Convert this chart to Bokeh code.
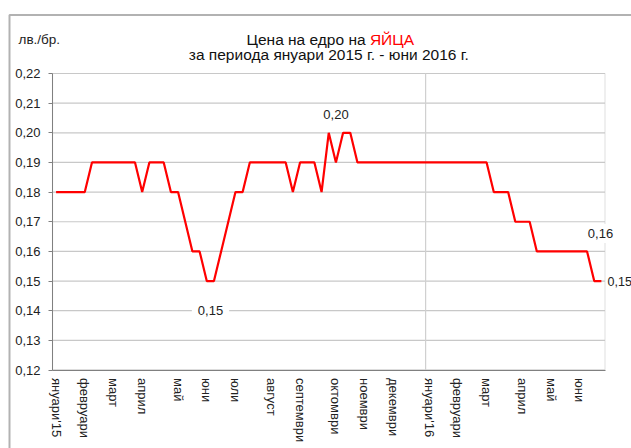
from bokeh.plotting import figure
from bokeh.models import Range1d, FixedTicker, CustomJSTickFormatter, Label, BoxAnnotation
from bokeh.embed import file_html
from bokeh.resources import INLINE

# weekly wholesale egg prices, Jan 2015 - Jun 2016 (лв./бр.)
week_index = list(range(77))
prices = ([0.18] * 5 + [0.19] * 7 + [0.18] + [0.19] * 3 + [0.18] * 2 + [0.17]
          + [0.16] * 2 + [0.15] * 2 + [0.16] + [0.17] + [0.18] * 2 + [0.19] * 6
          + [0.18] + [0.19] * 3 + [0.18] + [0.20] + [0.19] + [0.20] * 2
          + [0.19] * 19 + [0.18] * 3 + [0.17] * 3 + [0.16] * 8 + [0.15] * 2)

month_ticks = [0, 4, 8, 12, 17, 21, 25, 30, 34, 39, 43, 47, 52, 56, 60, 65, 69, 73]
month_labels = ["януари'15", "февруари", "март", "април", "май", "юни", "юли",
                "август", "септември", "октомври", "ноември", "декември",
                "януари'16", "февруари", "март", "април", "май", "юни"]
y_ticks = [0.12, 0.13, 0.14, 0.15, 0.16, 0.17, 0.18, 0.19, 0.20, 0.21, 0.22]

title_black = "Цена на едро на"
title_red = "ЯЙЦА"
subtitle = "за периода януари 2015 г. - юни 2016 г."
unit_label = "лв./бр."

FONT = "Liberation Sans"

# ---- layout (picture pixels) ----
W, H = 631, 448          # canvas
OX, OY = 0, 0            # canvas origin in the picture
FR_L, FR_R, FR_T, FR_B = 52.0, 604.5, 73.0, 369.5   # plot area in the picture
X0, X1 = -0.5, len(week_index) - 0.5
Y0, Y1 = y_ticks[0], y_ticks[-1]
SX = (FR_R - FR_L) / (X1 - X0)
SY = (FR_B - FR_T) / (Y1 - Y0)


def xd(px):
    return X0 + (px - FR_L) / SX


def yd(py):
    return Y0 + (FR_B - py) / SY


p = figure(width=W, height=H, output_backend="svg", toolbar_location=None,
           x_range=Range1d(xd(OX), xd(OX + W)), y_range=Range1d(yd(OY + H), yd(OY)),
           min_border=0, min_border_left=0, min_border_right=0,
           min_border_top=0, min_border_bottom=0)
p.outline_line_color = None
p.xgrid.visible = False
p.ygrid.visible = False

# outer chart border
p.add_layout(BoxAnnotation(left=xd(9), top=yd(14.5), right=xd(OX + W + 50), bottom=yd(OY + H + 50),
                           fill_color=None, line_color="black", line_width=2))

# horizontal gridlines inside the plot area
p.segment(x0=X0, x1=X1, y0=y_ticks, y1=y_ticks, line_color="#c8c8c8", line_width=1.2)
# vertical gridline at the year boundary
p.segment(x0=month_ticks[12] - 0.5, x1=month_ticks[12] - 0.5, y0=Y0, y1=Y1,
          line_color="#d0d0d0", line_width=1.2)
# plot-area border
p.add_layout(BoxAnnotation(left=X0, right=X1, bottom=Y0, top=Y1, fill_color=None,
                           line_color="#a8a8a8", line_width=1.2, level="underlay"))

p.line(week_index, prices, line_color="#ff0000", line_width=2.2)

p.yaxis.fixed_location = X0
p.yaxis.bounds = (Y0, Y1)
p.yaxis.ticker = FixedTicker(ticks=y_ticks)
p.yaxis.formatter = CustomJSTickFormatter(code="return tick.toFixed(2).replace('.', ',');")
p.yaxis.major_label_text_font = FONT
p.yaxis.major_label_text_font_size = "13px"
p.yaxis.major_label_text_color = "#222222"
p.yaxis.major_tick_out = 4
p.yaxis.major_tick_in = 0
p.yaxis.minor_tick_line_color = None
p.yaxis.major_label_standoff = 8
p.yaxis.axis_line_color = "#808080"
p.yaxis.major_tick_line_color = "#808080"

p.xaxis.fixed_location = Y0
p.xaxis.bounds = (X0, X1)
p.xaxis.ticker = FixedTicker(ticks=month_ticks)
p.xaxis.major_label_overrides = {t: l for t, l in zip(month_ticks, month_labels)}
p.xaxis.major_label_orientation = "vertical"
p.xaxis.major_label_text_font = FONT
p.xaxis.major_label_text_font_size = "13px"
p.xaxis.major_label_text_color = "#222222"
p.xaxis.major_tick_out = 0
p.xaxis.major_tick_in = 0
p.xaxis.minor_tick_line_color = None
p.xaxis.major_label_standoff = 8
p.xaxis.axis_line_color = "#808080"


def fmt(v):
    return f"{v:.2f}".replace(".", ",")


def add_label(x, y, text, align="center", pad=5, size="13px"):
    p.add_layout(Label(x=x, y=y, text=text, text_align=align, text_baseline="middle",
                       text_font=FONT, text_font_size=size, text_color="#222222",
                       background_fill_color="white", padding=pad))


add_label(xd(335.5), yd(114), fmt(max(prices)), pad=6)
add_label(xd(210), Y0 + 0.02, fmt(min(prices[:40])), pad=6)
add_label(xd(600), yd(233), fmt(prices[74]), pad=5)
add_label(xd(606), prices[76], fmt(prices[76]), align="left", pad=1, size="12.5px")

p.add_layout(Label(x=xd(365.1), y=yd(39), text=title_black, text_align="right",
                   text_baseline="alphabetic", text_font=FONT, text_font_size="15.5px",
                   text_color="#111111"))
p.add_layout(Label(x=xd(369.4), y=yd(39), text=title_red, text_align="left",
                   text_baseline="alphabetic", text_font=FONT, text_font_size="15.5px",
                   text_color="#ff0000"))
p.add_layout(Label(x=xd(328.3), y=yd(54.3), text=subtitle, text_align="center",
                   text_baseline="alphabetic", text_font=FONT, text_font_size="15.5px",
                   text_color="#111111"))
p.add_layout(Label(x=xd(18), y=yd(38.5), text=unit_label, text_align="left",
                   text_baseline="middle", text_font=FONT, text_font_size="13.5px",
                   text_color="#222222"))

open("out.html", "w").write(file_html(p, INLINE))
